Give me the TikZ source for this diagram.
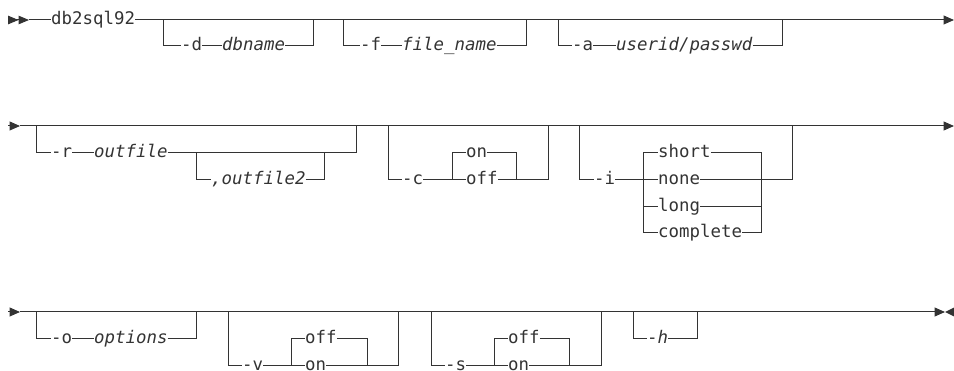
\documentclass[tikz,border=0pt]{standalone}
\usepackage{fontspec}
\usepackage{xcolor}
\usepackage{tikz}
\usetikzlibrary{arrows.meta}
\setmonofont{DejaVu Sans Mono}
\definecolor{ink}{HTML}{333333}
\newcommand{\railfont}{\ttfamily\fontsize{17.4}{20}\selectfont}

\begin{document}
\railfont
\begin{tikzpicture}[
  x=1pt, y=-1pt,
  every node/.style={text=ink, font=\railfont},
  kw/.style={inner sep=0pt, anchor=mid west},
  var/.style={kw, font=\railfont\itshape},
  rail/.style={line width=1pt, draw=ink},
  tip/.style={rail, -{Triangle[length=10.5pt,width=9pt]}},
  twotip/.style={rail, -{Triangle[length=10.5pt,width=8.5pt]Triangle[length=10.5pt,width=8.5pt]}},
]
\useasboundingbox (0,0) rectangle (954,371);

% --- line 1
\coordinate (r1s) at (8,20);
\coordinate (r1a) at (29,20);
\coordinate (r1e) at (954,20);
\node[kw]  (cmd)    at (51,20)  {db2sql92};
\node[kw]  (dflag)  at (181,46) {-d};
\node[var] (dbname) at (222,46) {dbname};
\node[kw]  (fflag)  at (360,46) {-f};
\node[var] (fname)  at (402,46) {file\_name};
\node[kw]  (aflag)  at (572,46) {-a};
\node[var] (auth)   at (616,46) {userid/passwd};
\coordinate (d0) at (163,20); \coordinate (d1) at (313,20);
\coordinate (f0) at (343,20); \coordinate (f1) at (526,20);
\coordinate (a0) at (558,20); \coordinate (a1) at (782,20);

\draw[twotip] (r1s) -- (r1a);
\draw[rail] (r1a) -- (cmd.mid west);
\draw[tip] (cmd.mid east) -- (r1e);
\draw[rail] (d0) |- (dflag.mid west);
\draw[rail] (dflag.mid east) -- (dbname.mid west);
\draw[rail] (dbname.mid east) -| (d1);
\draw[rail] (f0) |- (fflag.mid west);
\draw[rail] (fflag.mid east) -- (fname.mid west);
\draw[rail] (fname.mid east) -| (f1);
\draw[rail] (a0) |- (aflag.mid west);
\draw[rail] (aflag.mid east) -- (auth.mid west);
\draw[rail] (auth.mid east) -| (a1);

% --- line 2
\coordinate (r2s) at (8,126);
\coordinate (r2a) at (20,126);
\coordinate (r2e) at (954,126);
\node[kw]  (rflag)  at (51,153)  {-r};
\node[var] (outf)   at (94,153)  {outfile};
\node[var] (outf2)  at (211,180) {,outfile2};
\node[kw]  (cflag)  at (402,180) {-c};
\node[kw]  (con)    at (466,153) {on};
\node[kw]  (coff)   at (466,180) {off};
\node[kw]  (iflag)  at (594,180) {-i};
\node[kw]  (ishort) at (658,153) {short};
\node[kw]  (inone)  at (658,180) {none};
\node[kw]  (ilong)  at (658,207) {long};
\node[kw]  (icompl) at (658,233) {complete};
\coordinate (r0) at (36,126);  \coordinate (r1) at (356,126);
\coordinate (rj) at (196,153); \coordinate (rk) at (324,153);
\coordinate (c0) at (388,126); \coordinate (c1) at (548,126);
\coordinate (cj) at (452,180); \coordinate (ck) at (516,180);
\coordinate (i0) at (579,126); \coordinate (i1) at (792,126);
\coordinate (ij) at (643,153); \coordinate (ik) at (761,153);

\draw[tip] (r2s) -- (r2a);
\draw[tip] (r2a) -- (r2e);
\draw[rail] (r0) |- (rflag.mid west);
\draw[rail] (rflag.mid east) -- (outf.mid west);
\draw[rail] (outf.mid east) -| (r1);
\draw[rail] (rj) |- (outf2.mid west);
\draw[rail] (outf2.mid east) -| (rk);
\draw[rail] (c0) |- (cflag.mid west);
\draw[rail] (cflag.mid east) -- (coff.mid west);
\draw[rail] (cj) |- (con.mid west);
\draw[rail] (con.mid east) -| (ck);
\draw[rail] (coff.mid east) -| (c1);
\draw[rail] (i0) |- (iflag.mid west);
\draw[rail] (iflag.mid east) -- (inone.mid west);
\draw[rail] (ij) -- (ishort.mid west);
\draw[rail] (ij) |- (icompl.mid west);
\draw[rail] (ij |- ilong.mid west) -- (ilong.mid west);
\draw[rail] (ishort.mid east) -- (ik) |- (icompl.mid east);
\draw[rail] (ilong.mid east) -- (ilong.mid east -| ik);
\draw[rail] (inone.mid east) -| (i1);

% --- line 3
\coordinate (r3s) at (8,312);
\coordinate (r3a) at (20,312);
\coordinate (r3e) at (945,312);
\coordinate (r3z) at (954,312);
\node[kw]  (oflag)  at (51,339)  {-o};
\node[var] (opts)   at (94,339)  {options};
\node[kw]  (vflag)  at (242,366) {-v};
\node[kw]  (voff)   at (305,339) {off};
\node[kw]  (von)    at (305,366) {on};
\node[kw]  (sflag)  at (445,366) {-s};
\node[kw]  (soff)   at (508,339) {off};
\node[kw]  (son)    at (508,366) {on};
\node[kw]  (hflag)  at (647,339) {-\textit{h}};
\coordinate (o0) at (36,312);  \coordinate (o1) at (196,312);
\coordinate (v0) at (228,312); \coordinate (v1) at (398,312);
\coordinate (vj) at (291,339); \coordinate (vk) at (367,339);
\coordinate (s0) at (431,312); \coordinate (s1) at (601,312);
\coordinate (sj) at (494,339); \coordinate (sk) at (569,339);
\coordinate (h0) at (633,312); \coordinate (h1) at (697,312);

\draw[tip] (r3s) -- (r3a);
\draw[tip] (r3a) -- (r3e);
\fill[ink] (r3z) ++(0,-4.5) -- (r3e) -- ++(9,4.5) -- cycle;
\draw[rail] (o0) |- (oflag.mid west);
\draw[rail] (oflag.mid east) -- (opts.mid west);
\draw[rail] (opts.mid east) -| (o1);
\draw[rail] (v0) |- (vflag.mid west);
\draw[rail] (vflag.mid east) -- (von.mid west);
\draw[rail] (vj) |- (voff.mid west);
\draw[rail] (vj) -- (vj |- von.mid west);
\draw[rail] (voff.mid east) -| (vk) -- (vk |- von.mid east);
\draw[rail] (von.mid east) -| (v1);
\draw[rail] (s0) |- (sflag.mid west);
\draw[rail] (sflag.mid east) -- (son.mid west);
\draw[rail] (sj) |- (soff.mid west);
\draw[rail] (sj) -- (sj |- son.mid west);
\draw[rail] (soff.mid east) -| (sk) -- (sk |- son.mid east);
\draw[rail] (son.mid east) -| (s1);
\draw[rail] (h0) |- (hflag.mid west);
\draw[rail] (hflag.mid east) -| (h1);
\end{tikzpicture}
\end{document}
